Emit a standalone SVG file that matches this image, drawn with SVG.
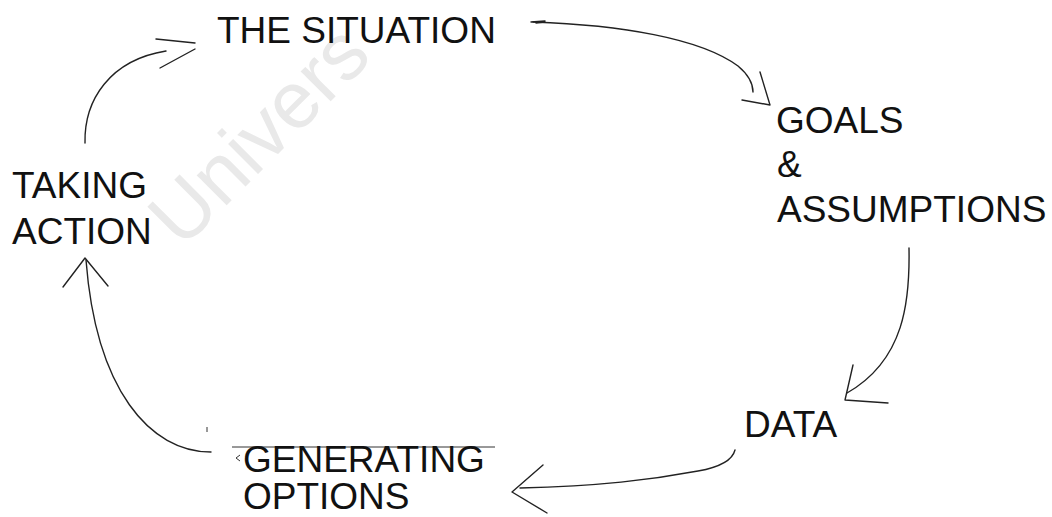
<svg xmlns="http://www.w3.org/2000/svg" width="1052" height="517" viewBox="0 0 1052 517">
<style>
.lbl{font-family:"Liberation Sans",Arial,sans-serif;font-size:37px;fill:#111}
.wm{font-family:"Liberation Sans",Arial,sans-serif;font-size:80px;fill:#e9e9e9}
.c{fill:none;stroke:#222;stroke-width:1.4;stroke-linecap:round;stroke-linejoin:round}
.t{fill:none;stroke:#333;stroke-width:1}
</style>
<rect width="1052" height="517" fill="#fff"/>
<text class="wm" transform="translate(182,250) rotate(-45)">Univers</text>
<g id="connectors">
  <!-- Taking action -> The situation -->
  <path class="c" d="M85,143 C84,100 110,60 166,51"/>
  <path class="c" d="M156,39 L195,43 M160,68 L195,49"/>
  <!-- The situation -> Goals -->
  <path class="c" d="M531,22 L545,21 M536,23 L545,22"/>
  <path class="c" d="M533,22 C620,25 700,38 738,66 C750,76 753,85 753,92"/>
  <path class="c" d="M760,72 L770,105 L742,100"/>
  <!-- Goals -> Data -->
  <path class="c" d="M909,248 C910,300 905,360 847,393"/>
  <path class="c" d="M853,365 L845,400 L888,403"/>
  <!-- Data -> Generating options -->
  <path class="c" d="M735,450 C732,462 715,468 698,471 C650,480 600,486 520,488"/>
  <path class="c" d="M543,465 L512,492 L547,513"/>
  <!-- Generating options -> Taking action -->
  <path class="c" d="M211,452 C150,452 96,390 86,260"/>
  <path class="c" d="M63,287 L85,258 L108,286"/>
</g>
<g id="marks">
  <line class="t" x1="232" y1="447" x2="495" y2="447"/>
  <path class="t" d="M240,455 L236,458 L240,461"/>
  <line class="t" x1="207" y1="427" x2="207" y2="432"/>
</g>
<g id="node-situation"><text class="lbl" x="217" y="43">THE SITUATION</text></g>
<g id="node-goals">
  <text class="lbl" x="776" y="133">GOALS</text>
  <text class="lbl" x="777" y="177">&amp;</text>
  <text class="lbl" x="777" y="222">ASSUMPTIONS</text>
</g>
<g id="node-data"><text class="lbl" x="744" y="437">DATA</text></g>
<g id="node-options">
  <text class="lbl" x="243" y="472">GENERATING</text>
  <text class="lbl" x="243" y="509">OPTIONS</text>
</g>
<g id="node-action">
  <text class="lbl" x="12" y="198">TAKING</text>
  <text class="lbl" x="12" y="244">ACTION</text>
</g>
</svg>
